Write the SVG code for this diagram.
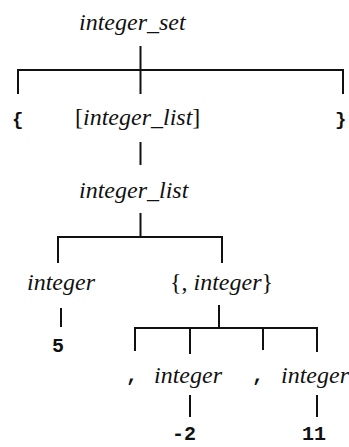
<svg xmlns="http://www.w3.org/2000/svg" width="349" height="447" viewBox="0 0 349 447">
<style>
.nt{font-family:"Liberation Serif","DejaVu Serif",serif;font-style:italic;font-size:24px;fill:#111}
.up{font-style:normal}
.tk{font-family:"Liberation Mono","DejaVu Sans Mono",monospace;font-weight:bold;font-size:20px;fill:#111}
.br{font-family:"Liberation Mono","DejaVu Sans Mono",monospace;font-weight:bold;font-size:19px;fill:#111}
.e{stroke:#111;stroke-width:2;fill:none}
</style>
<rect width="349" height="447" fill="#fff"/>
<g id="connectors" class="e">
<path d="M140.5 46V94M18 70H343M18 69V94M343 69V94"/>
<path d="M140.5 142V165"/>
<path d="M140.5 213V237M58 237H222M58 236V263M222 236V263"/>
<path d="M61 308V327"/>
<path d="M219 305V328M135 328H317M135 327V351M190 327V354M263 327V350M317 327V352"/>
<path d="M190 395V417M317 395V417"/>
</g>
<g id="n_integer_set"><text class="nt" x="79" y="30">integer_set</text></g>
<g id="n_lbrace"><text class="br" x="12" y="125">{</text></g>
<g id="n_opt_list"><text class="nt" x="75" y="125"><tspan class="up">[</tspan>integer_list<tspan class="up">]</tspan></text></g>
<g id="n_rbrace"><text class="br" x="335" y="125">}</text></g>
<g id="n_integer_list"><text class="nt" x="79" y="198">integer_list</text></g>
<g id="n_integer1"><text class="nt" x="27" y="290">integer</text></g>
<g id="n_rep"><text class="nt" x="170" y="290"><tspan class="up">{, </tspan>integer<tspan class="up">}</tspan></text></g>
<g id="n_5"><text class="tk" x="52" y="352">5</text></g>
<g id="n_comma1"><text class="tk" x="126" y="381">,</text></g>
<g id="n_integer2"><text class="nt" x="154" y="383">integer</text></g>
<g id="n_comma2"><text class="tk" x="252" y="381">,</text></g>
<g id="n_integer3"><text class="nt" x="281" y="383">integer</text></g>
<g id="n_m2"><text class="tk" x="172" y="440">-2</text></g>
<g id="n_11"><text class="tk" x="302" y="440">11</text></g>
</svg>
